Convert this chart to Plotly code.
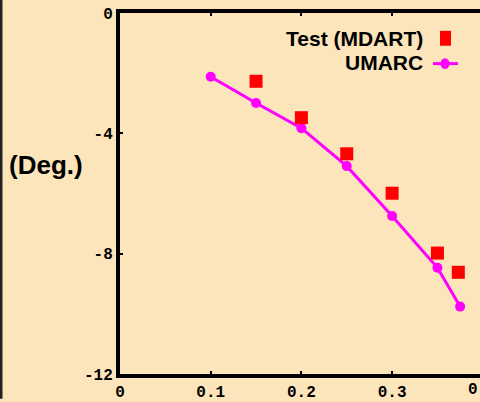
import plotly.graph_objects as go

# data
test_x = [0.15, 0.2, 0.25, 0.3, 0.35, 0.373]
test_y = [-2.27, -3.48, -4.68, -5.99, -7.98, -8.62]
umarc_x = [0.1, 0.15, 0.2, 0.25, 0.3, 0.35, 0.375]
umarc_y = [-2.12, -2.99, -3.83, -5.09, -6.75, -8.47, -9.76]
x_ticks = [0, 0.1, 0.2, 0.3]
x_ticktext = ["0", "0.1", "0.2", "0.3"]
y_ticks = [-12, -8, -4, 0]
y_ticktext = ["-12", "-8", "-4", "0"]

BG = "#fce4bb"
W, H = 480, 402
ML, MR, MT, MB = 120, 0, 13, 25
PW, PH = W - ML - MR, H - MT - MB
XMAX = 0.3969

def px(X):
    return (X - ML) / PW

def py(Y):
    return (H - MB - Y) / PH

tickfont = dict(family="Liberation Mono, Courier New, monospace", size=16, color="black")

fig = go.Figure()
fig.add_trace(go.Scatter(x=umarc_x, y=umarc_y, mode="lines+markers", name="UMARC",
                         line=dict(color="#ff00ff", width=3),
                         marker=dict(color="#ff00ff", size=10, symbol="circle"),
                         cliponaxis=False))
fig.add_trace(go.Scatter(x=test_x, y=test_y, mode="markers", name="Test (MDART)",
                         marker=dict(color="#ff0000", size=13, symbol="square"),
                         cliponaxis=False))

shapes = [
    # left page border
    dict(type="line", xref="paper", yref="paper", x0=px(1), x1=px(1), y0=py(0), y1=py(H),
         line=dict(color="#222222", width=3)),
    # legend symbols
    dict(type="rect", xref="paper", yref="paper", x0=px(440), x1=px(451), y0=py(46), y1=py(31),
         fillcolor="#ff0000", line=dict(width=0)),
    dict(type="line", xref="paper", yref="paper", x0=px(433), x1=px(458), y0=py(64), y1=py(64),
         line=dict(color="#ff00ff", width=3)),
    dict(type="circle", xref="paper", yref="paper", x0=px(440.5), x1=px(449.5), y0=py(69.5), y1=py(58.5),
         fillcolor="#ff00ff", line=dict(width=0)),
]

annotations = [
    dict(text="<b>Test (MDART)</b>", xref="paper", yref="paper", x=px(425), y=py(39),
         xanchor="right", yanchor="middle", showarrow=False,
         font=dict(family="Liberation Sans, Arial", size=21, color="black")),
    dict(text="<b>UMARC</b>", xref="paper", yref="paper", x=px(425), y=py(63),
         xanchor="right", yanchor="middle", showarrow=False,
         font=dict(family="Liberation Sans, Arial", size=21, color="black")),
    dict(text="<b>(Deg.)</b>", xref="paper", yref="paper", x=px(7), y=py(166),
         xanchor="left", yanchor="middle", showarrow=False,
         font=dict(family="Liberation Sans, Arial", size=26, color="black")),
    dict(text="<b>0.4</b>", xref="paper", yref="paper", x=0.4 / XMAX, y=py(393),
         xanchor="center", yanchor="middle", showarrow=False, font=tickfont),
]

fig.update_layout(
    width=W, height=H,
    margin=dict(l=ML, r=MR, t=MT, b=MB),
    paper_bgcolor=BG, plot_bgcolor=BG,
    showlegend=False,
    shapes=shapes, annotations=annotations,
)
fig.update_xaxes(range=[0, XMAX], tickvals=x_ticks,
                 ticktext=["<b>%s</b>" % t for t in x_ticktext],
                 showgrid=False, zeroline=False, showline=True, linecolor="black", linewidth=4,
                 mirror="ticks", ticks="inside", ticklen=3, tickwidth=2, tickcolor="black",
                 tickfont=tickfont)
fig.update_yaxes(range=[-12, 0], tickvals=y_ticks,
                 ticktext=["<b>%s</b>" % t for t in y_ticktext],
                 showgrid=False, zeroline=False, showline=True, linecolor="black", linewidth=4,
                 ticks="inside", ticklen=3, tickwidth=2, tickcolor="black",
                 tickfont=tickfont)

fig.write_html("out.html")
